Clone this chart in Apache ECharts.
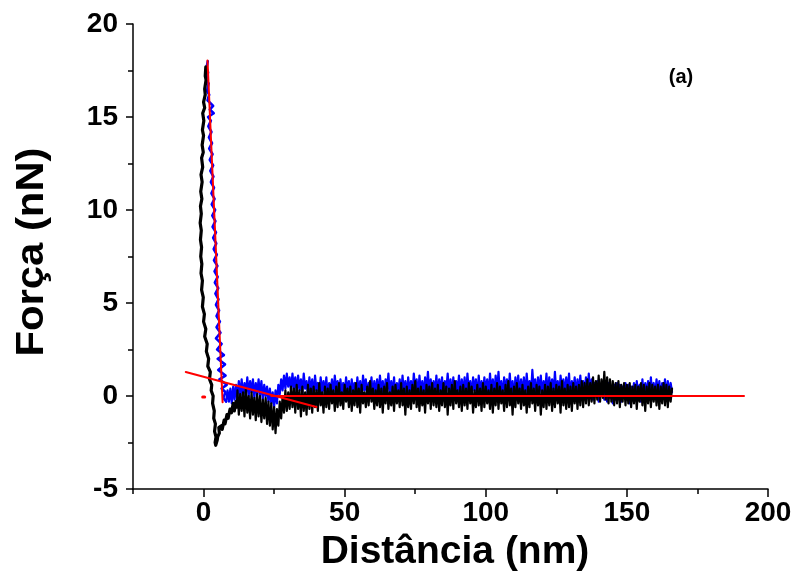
<!DOCTYPE html>
<html>
<head>
<meta charset="utf-8">
<script src="https://cdn.jsdelivr.net/npm/echarts@6/dist/echarts.min.js"></script>
<style>
html,body{margin:0;padding:0;background:#fff;}
#c{width:795px;height:581px;}
</style>
</head>
<body>
<div id="c"></div>
<script>
// ---- data ----
const xLabels = [0, 50, 100, 150, 200];
const xMinorTicks = [-25, 25, 75, 125, 175];
const yLabels = [-5, 0, 5, 10, 15, 20];

// approach curve (blue), steep part as [distance, force]
const blueSteep = [[1.5,18.0],[1.0,17.6],[1.6,17.4],[0.9,17.0],[1.8,16.8],[1.2,16.4],[2.0,16.2],[1.4,15.9],[3.4,15.6],[2.2,15.4],[3.6,15.2],[1.6,15.0],[2.6,14.8],[1.7,14.5],[2.8,14.2],[1.9,13.9],[3.0,13.6],[2.0,13.3],[3.2,13.0],[2.2,12.7],[3.4,12.4],[2.4,12.1],[3.5,11.8],[2.6,11.5],[3.7,11.2],[2.8,10.9],[3.9,10.6],[2.9,10.3],[4.1,10.0],[3.1,9.7],[4.2,9.4],[3.2,9.1],[4.4,8.8],[3.4,8.5],[4.5,8.2],[3.6,7.9],[4.7,7.6],[3.7,7.3],[4.9,7.0],[3.9,6.7],[5.0,6.4],[4.0,6.1],[5.2,5.8],[4.2,5.5],[5.3,5.2],[4.4,4.9],[5.5,4.6],[4.6,4.3],[5.8,4.0],[4.6,3.7],[6.0,3.4],[4.4,3.1],[6.4,2.8],[4.8,2.5],[7.2,2.2],[5.0,2.0],[7.6,1.7],[5.2,1.4],[7.8,1.1],[5.6,0.9],[8.2,0.6],[6.4,0.4],[7.8,0.2],[7.0,-0.1],[8.0,-0.3]];
// approach curve (blue), flat part: force sampled every 0.5 nm starting at 8.5 nm
const blueFlatStart = 8.5;
const blueFlatStep = 0.5;
const blueFlat = [0.3,-0.3,0.4,-0.4,0.5,-0.2,0.6,-0.1,
0.8,0.0,0.9,-0.1,0.7,0.1,1.0,0.0,0.8,0.2,0.9,-0.1,0.7,0.1,0.9,0.0,0.8,-0.2,0.6,0.0,
0.5,-0.3,0.4,-0.4,0.2,-0.6,0.3,-0.4,0.6,0.1,0.9,0.3,1.1,0.4,1.2,0.5,1.0,0.3,1.2,0.4,
1.0,0.2,1.1,0.3,0.9,0.1,1.2,0.4,0.8,0.0,1.0,0.2,0.9,-0.1,1.1,0.3,0.7,0.0,1.0,0.2,
0.8,0.1,1.0,-0.1,0.7,0.2,0.9,0.0,1.1,0.3,0.8,-0.2,0.9,0.1,0.7,0.0,1.0,0.2,0.8,-0.1,
0.9,0.2,0.7,0.0,1.0,0.1,0.8,-0.2,1.1,0.3,0.9,0.0,0.7,0.2,1.0,-0.1,0.8,0.1,0.9,0.0,
1.1,0.2,0.8,-0.1,0.9,0.3,1.2,0.0,0.8,0.1,1.0,-0.2,0.7,0.2,0.9,0.0,1.1,0.1,0.8,-0.1,
1.0,0.2,0.8,0.0,1.2,0.3,0.9,-0.1,1.1,0.1,0.8,0.0,1.0,0.2,1.3,0.1,0.9,-0.2,0.8,0.1,
1.1,0.0,0.9,0.2,1.0,-0.1,0.8,0.3,1.2,0.1,0.9,0.0,1.0,-0.2,0.8,0.2,1.1,0.0,0.9,0.1,
1.0,-0.1,1.2,0.2,0.8,0.0,1.0,0.3,0.9,-0.2,1.1,0.1,0.8,0.0,1.0,0.2,0.9,-0.1,1.2,0.1,
0.9,0.0,1.1,0.2,1.3,0.1,0.8,-0.1,1.0,0.3,0.9,0.0,1.2,0.1,0.8,-0.2,1.0,0.2,1.1,0.0,
0.9,0.1,1.0,-0.1,1.2,0.2,0.8,0.0,1.4,0.3,0.9,-0.1,1.0,0.2,1.1,0.0,0.8,0.1,1.2,-0.2,
1.0,0.2,0.9,0.0,1.3,0.1,0.8,-0.1,1.1,0.3,0.9,0.0,1.0,0.1,1.2,-0.2,0.8,0.2,1.0,0.0,
0.9,0.1,1.1,-0.1,0.8,0.2,1.0,0.0,1.2,0.1,0.9,-0.2,0.7,0.1,0.8,-0.3,0.6,0.0,0.7,-0.2,
0.6,-0.3,0.7,-0.1,0.5,-0.4,0.6,-0.2,0.7,0.0,0.6,-0.3,0.5,-0.1,0.7,-0.2,0.6,-0.4,0.5,-0.1,
0.7,-0.2,0.8,0.0,0.6,-0.3,0.9,-0.1,0.7,0.1,0.8,-0.2,1.0,0.0,0.7,-0.1,0.9,0.1,0.8,-0.2,
0.7,0.0,0.9,-0.1,0.8,0.1,0.7,0.2];

// retract curve (black), steep part and adhesion well as [distance, force]
const blackSteep = [[0.8,17.7],[0.6,17.2],[0.9,17.0],[0.4,16.5],[0.6,16.2],[0.0,15.8],[0.4,15.5],[-0.3,15.2],[0.1,14.8],[-0.4,14.3],[0.0,14.0],[-0.5,13.5],[-0.1,13.1],[-0.7,12.8],[-0.3,12.3],[-0.9,11.9],[-0.5,11.5],[-1.0,11.0],[-0.6,10.6],[-1.1,10.2],[-0.8,9.8],[-1.2,9.3],[-0.8,8.9],[-1.1,8.4],[-0.7,8.0],[-1.0,7.5],[-0.6,7.1],[-0.9,6.6],[-0.4,6.2],[-0.7,5.7],[-0.1,5.3],[-0.4,4.8],[0.3,4.4],[0.0,4.0],[0.8,3.6],[0.4,3.2],[1.3,2.8],[1.0,2.4],[1.8,2.0],[1.5,1.6],[2.4,1.3],[2.1,0.9],[2.9,0.6],[2.7,0.3],[3.4,0.0],[3.2,-0.4],[3.8,-0.8],[3.6,-1.2],[4.2,-1.5],[3.9,-1.9],[4.4,-2.2],[4.1,-2.5],[4.3,-2.65],[4.8,-2.4],[5.0,-2.2],[5.6,-2.0],[5.4,-1.7],[6.3,-1.6],[6.6,-1.8],[7.3,-1.3],[7.6,-1.5],[8.3,-1.0],[8.7,-1.2],[9.4,-0.7],[9.9,-0.9],[10.5,-0.4],[10.9,-0.8],[11.5,-0.3],[11.8,-0.6]];
// retract curve (black), flat part: force sampled every 0.5 nm starting at 12 nm
const blackFlatStart = 12;
const blackFlatStep = 0.5;
const blackFlat = [0.3,-1.0,0.1,-0.8,0.2,-1.1,0.4,-0.9,0.0,-1.2,0.2,-1.0,-0.1,-1.3,0.1,-1.1,0.0,-1.4,-0.2,-1.2,
-0.1,-1.5,-0.3,-1.6,-0.4,-1.8,-0.6,-2.0,-0.7,-1.6,-0.3,-1.2,0.0,-0.9,0.3,-0.8,0.2,-0.7,0.5,-0.6,
0.4,-0.9,0.6,-0.7,0.3,-1.1,0.5,-0.8,0.2,-1.0,0.6,-0.7,0.4,-0.9,0.5,-0.6,0.3,-0.8,0.7,-0.5,
0.2,-0.9,0.5,-0.6,0.4,-0.7,0.6,-0.4,0.3,-0.8,0.5,-0.6,0.7,-0.5,0.2,-0.7,0.6,-0.3,0.4,-0.6,
0.5,-0.8,0.3,-0.5,0.7,-0.6,0.4,-0.9,0.6,-0.4,0.2,-0.6,0.5,-0.5,0.8,-0.3,0.4,-0.7,0.3,-0.5,
0.6,-0.6,0.4,-0.9,0.5,-0.4,0.7,-0.7,0.2,-0.5,0.5,-0.8,0.6,-0.4,0.3,-0.6,0.7,-0.5,0.4,-1.0,
0.5,-0.6,0.3,-0.7,0.6,-0.4,0.8,-0.6,0.4,-0.8,0.5,-0.5,0.3,-0.9,0.6,-0.4,0.5,-0.7,0.7,-0.5,
0.4,-0.6,0.6,-0.8,0.3,-0.5,0.7,-0.6,0.5,-1.0,0.4,-0.5,0.6,-0.7,0.8,-0.4,0.3,-0.6,0.5,-0.8,
0.6,-0.5,0.4,-0.7,0.7,-0.4,0.5,-0.9,0.3,-0.6,0.6,-0.5,0.4,-0.8,0.7,-0.6,0.5,-0.4,0.3,-0.7,
0.6,-0.9,0.4,-0.5,0.7,-0.7,0.5,-0.4,0.3,-0.8,0.6,-0.6,0.8,-0.5,0.4,-1.0,0.5,-0.6,0.7,-0.4,
0.4,-0.7,0.6,-0.5,0.3,-0.9,0.5,-0.6,0.7,-0.4,0.4,-0.8,0.6,-0.5,0.5,-1.0,0.3,-0.6,0.6,-0.7,
0.5,-0.5,0.7,-0.8,0.4,-0.6,0.6,-0.4,0.5,-0.9,0.8,-0.5,0.4,-0.7,0.6,-0.6,0.5,-0.8,0.7,-0.4,
0.5,-0.7,0.6,-0.5,0.8,-0.6,0.7,-0.4,0.9,-0.5,0.7,-0.3,1.0,-0.4,0.8,-0.2,1.1,-0.3,0.9,-0.1,
1.3,-0.2,1.0,-0.4,0.9,-0.3,0.8,-0.5,0.7,-0.4,0.8,-0.6,0.6,-0.3,0.7,-0.5,0.6,-0.4,0.7,-0.6,
0.5,-0.4,0.6,-0.7,0.5,-0.3,0.7,-0.5,0.6,-0.8,0.5,-0.4,0.7,-0.6,0.6,-0.3,0.5,-0.5,0.6,-0.7,
0.5,-0.4,0.7,-0.5,0.6,-0.6,0.5,-0.3,0.4];

// red fit lines
const fitContact = [[1.4,18.04],[6.75,-0.34]];
const fitSlope = [[-6.3,1.29],[40.0,-0.59]];
const fitBaseline = [[24,0],[191.5,0]];
const fitMark = [[-0.3,-0.05],[0.4,-0.05]];

// ---- build ----
function flatToPairs(start, step, ys){
  return ys.map((y,i)=>[+(start + i*step).toFixed(2), y]);
}
const blueFlatData = [blueSteep[blueSteep.length-1]].concat(flatToPairs(blueFlatStart, blueFlatStep, blueFlat));
const blackFlatData = [blackSteep[blackSteep.length-1]].concat(flatToPairs(blackFlatStart, blackFlatStep, blackFlat));

const FONT = 'Liberation Sans, Arial, sans-serif';
const chart = echarts.init(document.getElementById('c'), null, {renderer:'canvas'});
function lineSeries(data, color, w, z){
  return {type:'line', data:data, showSymbol:false, symbol:'none', animation:false,
          lineStyle:{color:color, width:w, join:'round', cap:'round'}, itemStyle:{color:color}, z:z, silent:true};
}
chart.setOption({
  animation:false,
  backgroundColor:'#ffffff',
  grid:{left:133, right:27, top:24, bottom:92, containLabel:false},
  xAxis:[{
    type:'value', min:-25, max:200, position:'bottom',
    axisLine:{show:true, onZero:false, lineStyle:{color:'#000', width:1.5}},
    axisTick:{show:true, inside:false, length:8, customValues:xLabels, lineStyle:{color:'#000', width:1.5}},
    axisLabel:{show:true, customValues:xLabels, margin:10, color:'#000', fontFamily:FONT, fontWeight:'bold', fontSize:28},
    splitLine:{show:false}
  },{
    type:'value', min:-25, max:200, position:'bottom',
    axisLine:{show:false, onZero:false},
    axisTick:{show:true, inside:false, length:5, customValues:xMinorTicks, lineStyle:{color:'#000', width:1.5}},
    axisLabel:{show:false},
    splitLine:{show:false}
  }],
  yAxis:{
    type:'value', min:-5, max:20, interval:5,
    axisLine:{show:true, onZero:false, lineStyle:{color:'#000', width:1.5}},
    axisTick:{show:true, inside:false, length:7, lineStyle:{color:'#000', width:1.5}},
    minorTick:{show:true, splitNumber:2, length:5, lineStyle:{color:'#000', width:1.5}},
    axisLabel:{margin:15, color:'#000', fontFamily:FONT, fontWeight:'bold', fontSize:28,
      formatter:function(v){ return yLabels.indexOf(v)>=0 ? String(v) : ''; }},
    splitLine:{show:false}
  },
  series:[
    lineSeries(blueSteep, '#0000ff', 2.6, 2),
    lineSeries(blueFlatData, '#0000ff', 2.2, 2),
    lineSeries(blackSteep, '#000000', 3.2, 3),
    lineSeries(blackFlatData, '#000000', 2.2, 3),
    lineSeries(fitContact, '#ff0000', 2, 4),
    lineSeries(fitSlope, '#ff0000', 2, 4),
    lineSeries(fitBaseline, '#ff0000', 2, 4),
    lineSeries(fitMark, '#ff0000', 3, 4)
  ],
  graphic:[
    {type:'text', x:455, y:552, style:{text:'Distância (nm)', fill:'#000', font:'bold 39px '+FONT, textAlign:'center', textVerticalAlign:'middle'}},
    {type:'text', x:33, y:252, rotation:Math.PI/2, scaleX:1.1, style:{text:'Força (nN)', fill:'#000', font:'bold 38px '+FONT, textAlign:'center', textVerticalAlign:'middle'}},
    {type:'text', x:681, y:77, style:{text:'(a)', fill:'#000', font:'bold 20px '+FONT, textAlign:'center', textVerticalAlign:'middle'}}
  ]
});
</script>
</body>
</html>
